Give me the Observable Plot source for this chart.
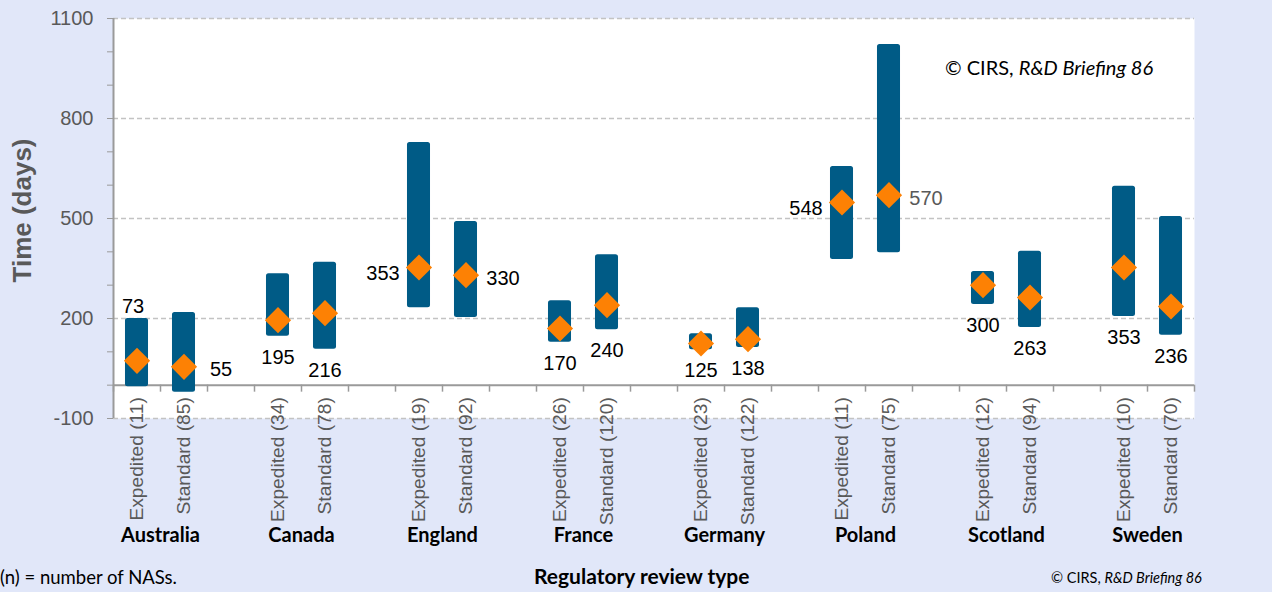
<!DOCTYPE html>
<html>
<head>
<meta charset="utf-8">
<script src="https://cdn.jsdelivr.net/npm/d3@7"></script>
<script src="https://cdn.jsdelivr.net/npm/@observablehq/plot@0.6"></script>
<style>
  html, body { margin: 0; padding: 0; background: #e1e7f9; }
  #wrap { position: relative; width: 1272px; height: 592px; overflow: hidden; background: #e1e7f9; }
  #chart svg { display: block; }
  .note { position: absolute; font-family: Lato, "Noto Sans", sans-serif; color: #000; white-space: nowrap; line-height: 1; }
</style>
</head>
<body>
<div id="wrap">
  <div id="chart"></div>
  <div class="note" id="cinside" style="left:945px; top:57px; font-size:20px;">© CIRS, <i>R&amp;D Briefing 86</i></div>
  <div class="note" id="nnote" style="left:0px; top:568px; font-size:18.5px;">(n) = number of NASs.</div>
  <div class="note" id="xtitle" style="left:534px; top:565px; font-size:21px; font-weight:bold;">Regulatory review type</div>
  <div class="note" id="cbottom" style="left:1051px; top:571px; font-size:14.5px;">© CIRS, <i>R&amp;D Briefing 86</i></div>
</div>
<script>
// ---- data ----
const countries = ["Australia", "Canada", "England", "France", "Germany", "Poland", "Scotland", "Sweden"];
const reviewTypes = ["Expedited", "Standard"];
const nCounts    = [11, 85, 34, 78, 19, 92, 26, 120, 23, 122, 11, 75, 12, 94, 10, 70];
const lowValues  = [-5, -21, 147, 108, 232, 203, 129, 166, 106, 113, 377, 397, 242, 173, 206, 150];
const highValues = [200, 218, 334, 369, 728, 491, 253, 391, 154, 232, 656, 1022, 341, 402, 597, 506];
const medianValues = [73, 55, 195, 216, 353, 330, 170, 240, 125, 138, 548, 570, 300, 263, 353, 236];
const labelPlacement = ["top", "right", "bottom", "bottom", "left", "right", "bottom", "bottom",
                        "bottom", "bottom", "left", "right", "bottom", "bottom", "bottom", "bottom"];
const yTicks = [-100, 200, 500, 800, 1100];
const yMinorTicks = d3.range(-100, 1101, 100);

// ---- derived table ----
const rows = nCounts.map((n, i) => {
  const g = Math.floor(i / 2), t = i % 2;
  return {
    country: countries[g], type: reviewTypes[t], n,
    slot: g * 3 + t,
    low: lowValues[i], high: highValues[i], median: medianValues[i],
    place: labelPlacement[i]
  };
});
const slotCount = countries.length * 3 - 1;
const boundaries = d3.range(0, slotCount + 1);
const groups = countries.map((c, g) => ({country: c, mid: g * 3 + 1}));

const font = "'Liberation Sans', Arial, sans-serif";
const calibriLike = "Lato, 'Noto Sans', sans-serif";
const barColor = "#005b86";
const diamondColor = "#fd8104";
const gridColor = "#c3c3c3";
const axisColor = "#9a9a9a";
const textGray = "#595959";

const labelsBy = p => rows.filter(d => d.place === p);
const labelColor = d => (d.country === "Poland" && d.type === "Standard") ? textGray : "#000";
const valueText = {fontSize: 20, fontFamily: font, fill: labelColor, text: d => String(d.median)};

const chart = Plot.plot({
  width: 1272,
  height: 592,
  marginLeft: 113,
  marginRight: 78,
  marginTop: 18,
  marginBottom: 174,
  style: {background: "transparent", fontFamily: font},
  x: {type: "linear", domain: [0, slotCount], axis: null},
  y: {domain: [-100, 1100], axis: null},
  marks: [
    Plot.frame({fill: "white", stroke: null}),
    Plot.ruleY(yTicks, {stroke: gridColor, strokeWidth: 1.4, strokeDasharray: "5,3"}),
    Plot.ruleY([0], {stroke: axisColor, strokeWidth: 2}),
    Plot.ruleX(boundaries, {y1: () => 0, y2: () => -21, stroke: axisColor, strokeWidth: 1.5}),
    Plot.ruleX([0], {stroke: axisColor, strokeWidth: 2}),
    Plot.axisY({ticks: yMinorTicks, tickSize: 6, tickFormat: () => "", stroke: axisColor, label: null}),
    Plot.axisY({ticks: yTicks, tickSize: 6, tickPadding: 14, tickFormat: d => String(d),
                fontSize: 20, fontFamily: font, fill: textGray, stroke: axisColor, label: null}),
    Plot.rect(rows, {
      x1: d => d.slot + 0.255, x2: d => d.slot + 0.745,
      y1: "low", y2: "high", fill: barColor, rx: 2.5
    }),
    Plot.dot(rows, {
      x: d => d.slot + 0.5, y: "median", symbol: "diamond2", r: 11.8,
      fill: diamondColor, stroke: null
    }),
    // value labels
    Plot.text(labelsBy("top"), {x: d => d.slot + 0.5, y: "high", dx: -4, dy: -12, ...valueText}),
    Plot.text(labelsBy("bottom"), {x: d => d.slot + 0.5, y: "low", dy: 21, ...valueText}),
    Plot.text(labelsBy("left"), {x: d => d.slot + 0.5, y: "median", dx: -36, dy: 6, ...valueText}),
    Plot.text(labelsBy("right"), {x: d => d.slot + 0.5, y: "median", dx: 37, dy: 3, ...valueText}),
    // category tick labels (rotated)
    Plot.text(rows, {
      x: d => d.slot + 0.5, y: () => 0, text: d => `${d.type} (${d.n})`,
      rotate: -90, textAnchor: "end", lineAnchor: "middle", dy: 12,
      fontSize: 19.2, fontFamily: font, fill: textGray
    }),
    // country group labels
    Plot.text(groups, {
      x: "mid", frameAnchor: "bottom", lineAnchor: "middle", text: "country", dy: 117,
      fontSize: 20, fontWeight: "bold", fill: "#000", fontFamily: calibriLike
    }),
    // y axis title
    Plot.text(["Time (days)"], {
      frameAnchor: "left", text: d => d, rotate: -90, textAnchor: "middle", lineAnchor: "middle",
      dx: -91, dy: -8, fontSize: 26, fontWeight: "bold", fontFamily: font, fill: textGray
    })
  ]
});
document.getElementById("chart").appendChild(chart);
</script>
</body>
</html>
